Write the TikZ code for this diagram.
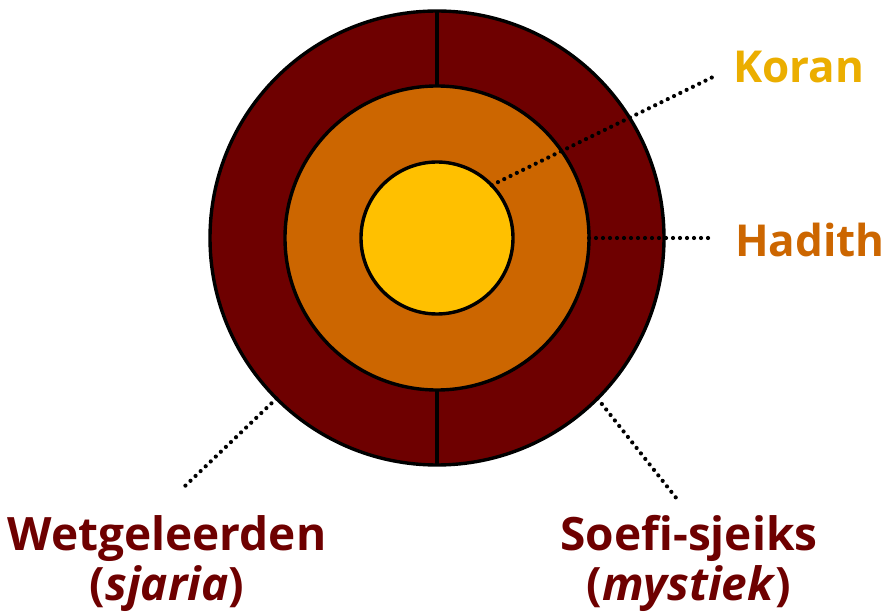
\documentclass[tikz,border=0pt]{standalone}
\usepackage{fontspec}
\setmainfont{Open Sans}
\usepackage{xcolor}
\usepackage{tikz}
\usetikzlibrary{positioning,calc}
\definecolor{maroon}{HTML}{6E0000}
\definecolor{ochre}{HTML}{CC6600}
\definecolor{gold}{HTML}{FFC000}
\definecolor{goldtxt}{HTML}{EBAE00}
\tikzset{
  ring/.style    ={circle, draw=black, fill=#1, line width=3.4pt, outer sep=0pt, inner sep=0pt},
  leader/.style  ={line width=4.2pt, line cap=round, dash pattern=on 0pt off 7pt},
  tag/.style     ={font=\fontsize{44}{50}\selectfont\bfseries, text=#1, inner sep=0pt},
  bigtag/.style  ={font=\fontsize{46}{50}\selectfont\bfseries, text=maroon, align=center, inner sep=0pt},
}
\begin{document}
\begin{tikzpicture}[x=1pt,y=-1pt]
\useasboundingbox (0,0) rectangle (887,612);
\node[ring=maroon, minimum size=454pt] (outer) at (437,238) {};
\node[ring=ochre, minimum size=304pt] (middle) at (437,238) {};
\node[ring=gold, minimum size=152pt] (inner) at (437,238) {};
\draw[line width=3.4pt] (outer.north) -- (middle.north);
\draw[line width=3.4pt] (middle.south) -- (outer.south);

\node[tag=goldtxt, anchor=base west] (koran) at (733,83) {Koran};
\node[tag=ochre, anchor=base west] (hadith) at (735,257) {Hadith};
\node[bigtag, anchor=base] (fiqh) at (167,600) {Wetgeleerden\\(\textit{sjaria})};
\node[bigtag, anchor=base] (sufi) at (689,600) {Soefi-sjeiks\\(\textit{mystiek})};

\coordinate (koranend) at (715,76);
\coordinate (hadithend) at (713,238);
\coordinate (fiqhend) at (184,487);
\coordinate (sufiend) at (677,499);
\draw[leader] (inner.44) -- (koranend);
\draw[leader] (middle.east) -- (hadithend);
\draw[leader] (outer.225) -- (fiqhend);
\draw[leader] (outer.-45) -- (sufiend);
\end{tikzpicture}
\end{document}
